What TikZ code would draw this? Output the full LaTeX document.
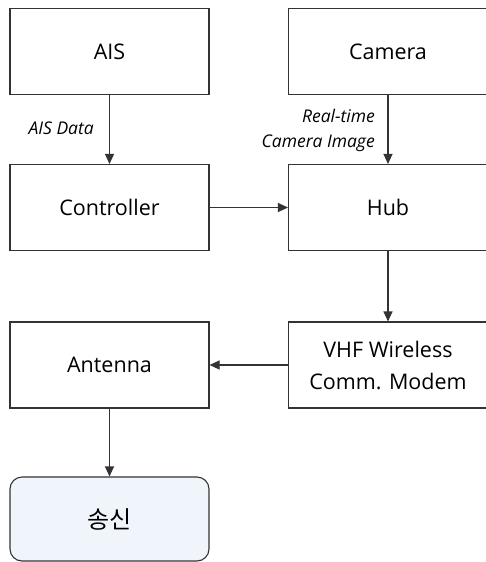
\documentclass[tikz,border=0pt]{standalone}
\usepackage{fontspec}
\setmainfont{Open Sans}
\newfontfamily\krfont{Noto Sans CJK KR}
\usetikzlibrary{arrows.meta}
\definecolor{boxline}{HTML}{333333}
\definecolor{boxfill}{HTML}{EFF5FB}
\begin{document}
\begin{tikzpicture}[x=1pt, y=-1pt]
  \tikzset{BlockStyle/.style = {
  shape = rectangle,
  draw = boxline,
  line width = 1.1pt,
  minimum width = 199pt,
  minimum height = 86pt,
  inner sep = 0pt,
  align = center,
  font = \fontsize{21.5}{32}\selectfont},
  FlowStyle/.style = {
  draw = boxline,
  line width = 1.1pt,
  -{Triangle[width=9pt, length=10pt]}},
  NoteStyle/.style = {
  font = \fontsize{17.5}{25}\selectfont\itshape,
  align = right}}
  \useasboundingbox (0,0) rectangle (485,562);
  \node[BlockStyle] (ais) at (109.5, 51.5) {AIS};
  \node[BlockStyle] (camera) at (388, 51.5) {Camera};
  \node[BlockStyle] (controller) at (109.5, 207.5) {Controller};
  \node[BlockStyle] (hub) at (388, 207.5) {Hub};
  \node[BlockStyle] (antenna) at (109.5, 365) {Antenna};
  \node[BlockStyle] (modem) at (388, 365) {VHF Wireless\\Comm. Modem};
  \node[BlockStyle, fill = boxfill, rounded corners = 12pt,
    minimum height = 84pt, font = \krfont\fontsize{24}{30}\selectfont]
    (send) at (109.5, 519) {송신};
  \draw[FlowStyle] (ais) -- (controller);
  \draw[FlowStyle] (camera) -- (hub);
  \draw[FlowStyle] (controller) -- (hub);
  \draw[FlowStyle] (hub) -- (modem);
  \draw[FlowStyle] (modem) -- (antenna);
  \draw[FlowStyle] (antenna) -- (send);
  \node[NoteStyle, anchor = east, inner sep = 0pt] (aisdata) at (94, 128) {AIS Data};
  \node[NoteStyle, anchor = east, inner sep = 0pt] (camimage) at (375, 130) {Real-time\\Camera Image};
\end{tikzpicture}
\end{document}
